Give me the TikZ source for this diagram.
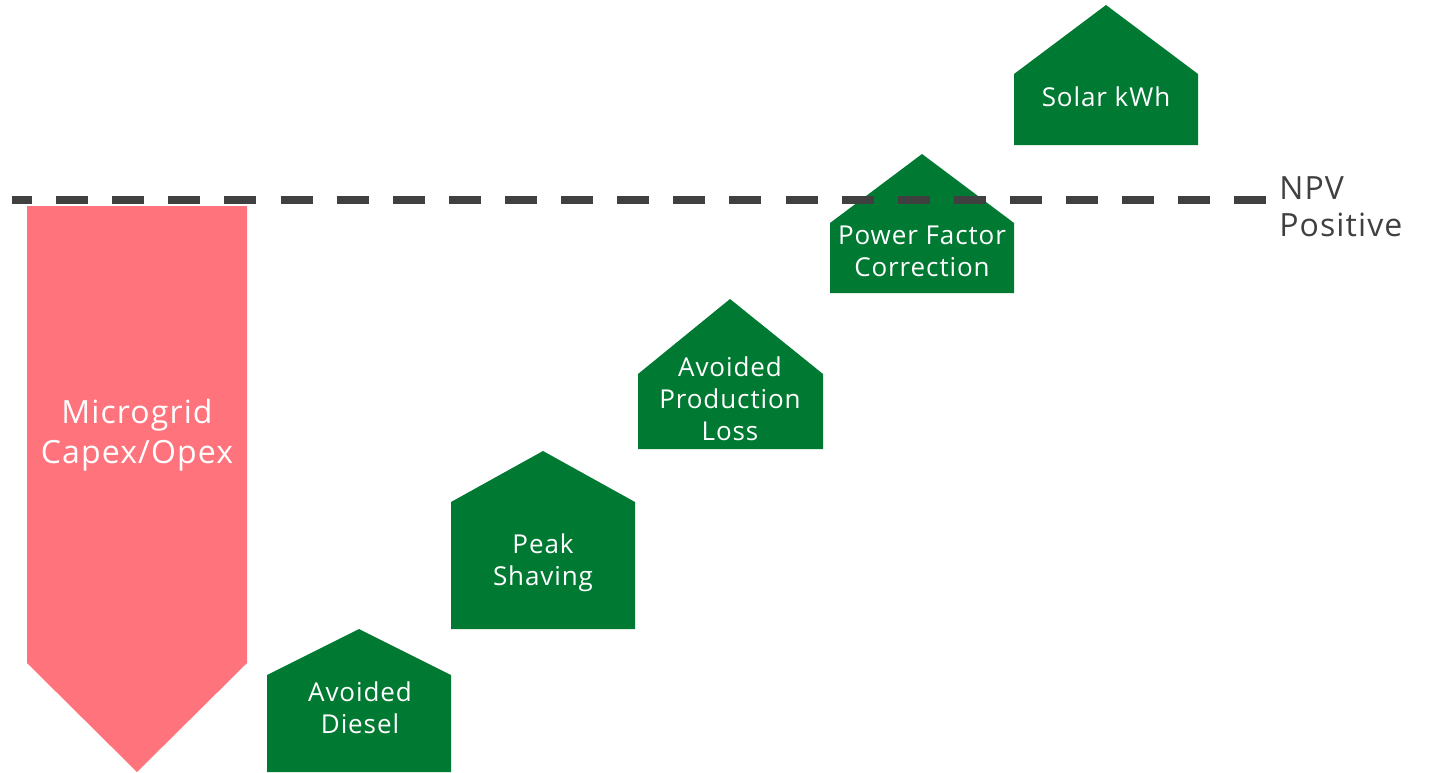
\documentclass[tikz,border=0pt]{standalone}
\usepackage{fontspec}
\setmainfont{Open Sans}[LetterSpace=3.5]
\definecolor{costred}{HTML}{FF737D}
\definecolor{gaingreen}{HTML}{007A33}
\definecolor{npvgray}{HTML}{404040}
\begin{document}
\begin{tikzpicture}[x=0.75pt,y=-0.75pt,
  house/.style={fill=gaingreen,draw=none},
  gaintext/.style={text=white,align=center,inner sep=0pt,
    font=\fontsize{19.5}{24}\selectfont},
  costtext/.style={text=white,align=center,inner sep=0pt,
    font=\fontsize{24}{30}\selectfont},
  npvline/.style={draw=npvgray,line width=6.4pt,line cap=butt,
    dash pattern=on 24pt off 18.08pt,dash phase=9pt},
  npvtext/.style={text=npvgray,align=left,anchor=west,inner sep=0pt,
    font=\fontsize{24}{27.75}\selectfont}]
\useasboundingbox (0,0) rectangle (1433,772);
\begin{scope}
\clip (0,0) rectangle (1433,772);
% cost arrow pointing down
\fill[costred] (27,206) -- (247,206) -- (247,663) -- (137,772) -- (27,663) -- cycle;
% benefit blocks, stepping up to the right
\fill[house] (267,772) -- (267,675) -- (359,629) -- (451,675) -- (451,772) -- cycle;
\fill[house] (451,629) -- (451,502) -- (543,451) -- (635,502) -- (635,629) -- cycle;
\fill[house] (638,449) -- (638,374) -- (730,299) -- (823,374) -- (823,449) -- cycle;
\fill[house] (830,293) -- (830,223) -- (922,154) -- (1014,223) -- (1014,293) -- cycle;
\fill[house] (1014,145) -- (1014,74) -- (1106,5) -- (1198,74) -- (1198,145) -- cycle;
\end{scope}
% break-even line
\coordinate (lineL) at (12,200);
\coordinate (lineR) at (1266,200);
\draw[npvline] (lineL) -- (lineR);
% labels
\node[costtext] (capex) at (137,435) {Microgrid\\Capex/Opex};
\node[gaintext] (diesel) at (360,708) {Avoided\\Diesel};
\node[gaintext] (peak) at (543,563) {Peak\\Shaving};
\node[gaintext] (prod) at (730,399) {Avoided\\Production\\Loss};
\node[gaintext] (pfc) at (922,251) {Power Factor\\Correction};
\node[gaintext] (solar) at (1106,97) {Solar kWh};
\node[npvtext] (npv) at (1279,207) {NPV\\Positive};
\end{tikzpicture}
\end{document}
